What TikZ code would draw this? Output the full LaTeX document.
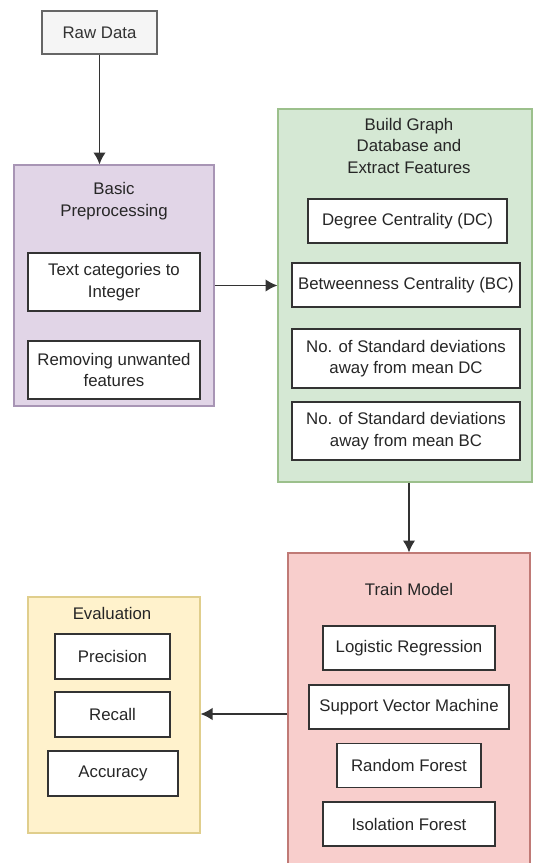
\documentclass[tikz,border=0pt]{standalone}
\usepackage{fontspec}
\setmainfont{Liberation Sans}
\usetikzlibrary{arrows.meta, positioning}
\definecolor{greyfill}{HTML}{F5F5F5}
\definecolor{greyline}{HTML}{666666}
\definecolor{greytext}{HTML}{333333}
\definecolor{purplefill}{HTML}{E1D5E7}
\definecolor{purpleline}{HTML}{A895B5}
\definecolor{greenfill}{HTML}{D5E8D4}
\definecolor{greenline}{HTML}{9CC08C}
\definecolor{redfill}{HTML}{F8CECC}
\definecolor{redline}{HTML}{C07A76}
\definecolor{yellowfill}{HTML}{FFF2CC}
\definecolor{yellowline}{HTML}{E0CE8C}
\tikzset{
  >={Latex[width=4.4mm,length=4.2mm]},
  base/.style = {rectangle, draw=black!80, line width=1.6pt, fill=white,
                 inner sep=0pt, text centered, align=center,
                 text=black!85, font=\fontsize{16.8}{21.5}\selectfont},
  item/.style = {base, minimum height=44pt},
  group/.style = {rectangle, line width=1.1pt, inner sep=0pt},
  title/.style = {align=center, text=black!85,
                  font=\fontsize{16.8}{21.5}\selectfont},
  flow/.style = {->, line width=1.6pt, draw=black!80},
}

\begin{document}
\begin{tikzpicture}[x=1pt, y=-1pt]
  \useasboundingbox (0,0) rectangle (533,863);

  % containers
  \node (prep) [group, fill=purplefill, draw=purpleline,
    minimum width=200pt, minimum height=241pt] at (114,285.5) {};
  \node (graph) [group, fill=greenfill, draw=greenline,
    minimum width=254pt, minimum height=373pt] at (405,295.5) {};
  \node (train) [group, fill=redfill, draw=redline,
    minimum width=242pt, minimum height=322pt] at (409,714) {};
  \node (eval) [group, fill=yellowfill, draw=yellowline,
    minimum width=172pt, minimum height=236pt] at (114,715) {};

  % titles
  \node [title] at (114,201) {Basic\\Preprocessing};
  \node [title] at (409,145.5) {Build Graph\\Database and\\Extract Features};
  \node [title] at (409,589) {Train Model};
  \node [title] at (112,613) {Evaluation};

  % boxes
  \node (raw) [base, fill=greyfill, draw=greyline, text=greytext,
    minimum width=115pt, minimum height=43.5pt] at (99.5,32.5) {Raw Data};
  \node (txtcat) [item, minimum width=172pt, minimum height=58pt]
    at (114,282) {Text categories to\\Integer};
  \node (remove) [item, minimum width=172pt, minimum height=58pt]
    at (114,370) {Removing unwanted\\features};
  \node (dc) [item, minimum width=199pt] at (407.5,221) {Degree Centrality (DC)};
  \node (bc) [item, minimum width=228pt] at (406,285) {Betweenness Centrality (BC)};
  \node (dcstd) [item, minimum width=228pt, minimum height=59pt]
    at (406,358.5) {No. of Standard deviations\\away from mean DC};
  \node (bcstd) [item, minimum width=228pt, minimum height=58.5pt]
    at (406,431) {No. of Standard deviations\\away from mean BC};
  \node (logreg) [item, minimum width=172pt] at (409,648) {Logistic Regression};
  \node (svm) [item, minimum width=200pt] at (409,707) {Support Vector Machine};
  \node (rf) [item, minimum width=144pt] at (409,765.5) {Random Forest};
  \node (iso) [item, minimum width=172pt] at (409,824) {Isolation Forest};
  \node (prec) [item, minimum width=115pt, minimum height=45pt] at (112.5,656.5) {Precision};
  \node (rec) [item, minimum width=115pt, minimum height=45pt] at (112.5,714.5) {Recall};
  \node (acc) [item, minimum width=130pt, minimum height=45pt] at (113,773.5) {Accuracy};

  % connectors
  \draw[flow] (raw.south) -- (raw.south |- prep.north);
  \draw[flow] (prep.east) -- (prep.east -| graph.west);
  \draw[flow] (train.north |- graph.south) -- (train.north);
  \draw[flow] (train.west) -- (train.west -| eval.east);
\end{tikzpicture}
\end{document}
